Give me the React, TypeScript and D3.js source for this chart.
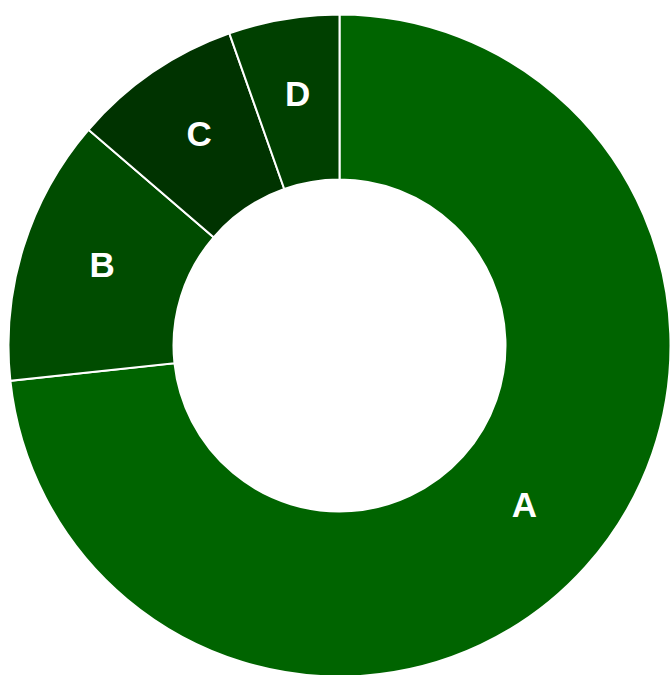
import React from "react";
import * as d3 from "d3";

const categories = ["A", "B", "C", "D"];
const values = [73.3, 13.0, 8.3, 5.4];
const colors = ["#006400", "#004c00", "#003300", "#004000"];

export default function App() {
  const width = 670;
  const height = 675;
  const cx = 339.5;
  const cy = 345.5;
  const outerR = 331;
  const innerR = 166;

  const data = categories.map((c, i) => ({ cat: c, value: values[i], color: colors[i] }));
  const pie = d3.pie<any>().value((d: any) => d.value).sort(null);
  const arcs = pie(data);
  const arcGen = d3.arc<any>().innerRadius(innerR).outerRadius(outerR);

  return (
    <svg
      width={width}
      height={height}
      style={{ position: "absolute", left: 0, top: 0, display: "block" }}
    >
      <g transform={`translate(${cx},${cy})`}>
        {arcs.map((a, i) => (
          <path key={i} d={arcGen(a) || ""} fill={a.data.color} stroke="#fff" strokeWidth={2} />
        ))}
        {arcs.map((a, i) => {
          const [x, y] = arcGen.centroid(a);
          return (
            <text
              key={"t" + i}
              x={x}
              y={y}
              dy={-7}
              textAnchor="middle"
              dominantBaseline="central"
              fill="#fff"
              fontFamily="'Liberation Sans', Arial, sans-serif"
              fontWeight="bold"
              fontSize={35}
            >
              {a.data.cat}
            </text>
          );
        })}
      </g>
    </svg>
  );
}
